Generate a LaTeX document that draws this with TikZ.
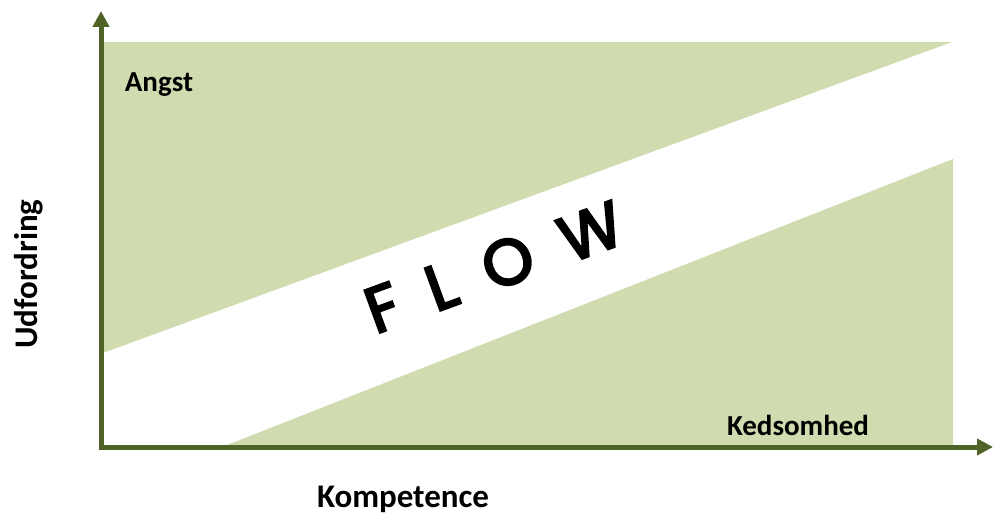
\documentclass[tikz,border=0pt]{standalone}
\usepackage{fontspec}
\setmainfont{Carlito}
\newfontfamily\flowfont[FakeBold=4]{Poppins}
\usetikzlibrary{arrows.meta}
\definecolor{zonefill}{HTML}{D0DCB0}
\definecolor{axiscol}{HTML}{4F6228}
\tikzset{
  zone/.style={fill=zonefill, draw=none},
  axisline/.style={draw=axiscol, line width=5pt, -{Triangle[length=16pt,width=16pt]}},
  lbl/.style={font=\fontsize{29}{32}\selectfont\bfseries, text=black, inner sep=0pt},
  axlbl/.style={font=\fontsize{33}{36}\selectfont\bfseries, text=black, inner sep=0pt},
}
\begin{document}
\begin{tikzpicture}[x=1pt,y=-1pt]
\useasboundingbox (0,0) rectangle (993,516);
% zones
\fill[zone] (103,42) -- (952,42) -- (103,353) -- cycle;
\fill[zone] (222,447) -- (953,159) -- (953,447) -- cycle;
% axes
\coordinate (origin) at (101,447);
\coordinate (ytip) at (101,11);
\coordinate (xtip) at (993,447);
\draw[axisline] ([yshift=2.5pt]origin) -- (ytip);
\draw[axisline] ([xshift=-2.5pt]origin) -- (xtip);
% labels
\node[lbl] (angst) at (159,85) {Angst};
\node[lbl] (keds) at (798,425) {Kedsomhed};
\node[axlbl] (komp) at (403,499) {Kompetence};
\node[axlbl, rotate=90] (udf) at (29,274) {Udfordring};
\node[inner sep=0pt, rotate=20.1, font=\flowfont\fontsize{64}{70}\selectfont] (flow) at (494,267) {F\hspace{32pt}L\hspace{32pt}O\hspace{32pt}W};
\end{tikzpicture}
\end{document}
